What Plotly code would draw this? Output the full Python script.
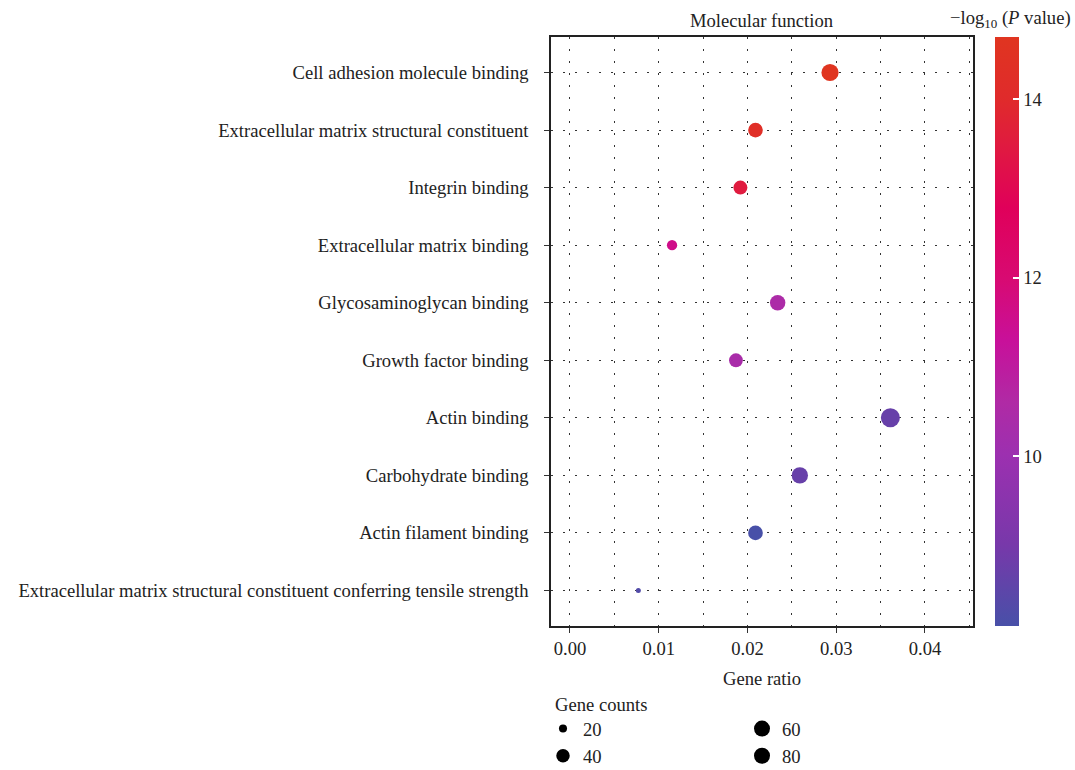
import numpy as np
import plotly.graph_objects as go

# ---------------- data ----------------
terms = [
    "Cell adhesion molecule binding",
    "Extracellular matrix structural constituent",
    "Integrin binding",
    "Extracellular matrix binding",
    "Glycosaminoglycan binding",
    "Growth factor binding",
    "Actin binding",
    "Carbohydrate binding",
    "Actin filament binding",
    "Extracellular matrix structural constituent conferring tensile strength",
]
gene_ratio = [0.0293, 0.0209, 0.0192, 0.0115, 0.0234, 0.0187, 0.0361, 0.0259, 0.0209, 0.0077]
gene_counts = [65, 47, 43, 26, 52, 42, 80, 58, 47, 17]
neg_log10_p = [14.7, 14.3, 13.5, 11.6, 10.5, 10.4, 8.7, 8.7, 8.1, 8.3]

legend_counts = [20, 40, 60, 80]
color_ticks = [10, 12, 14]
x_ticks = [0.00, 0.01, 0.02, 0.03, 0.04]

# ---------------- styling ----------------
FONT = "Liberation Serif"
FS = 18.6
cmin_px, cmax_px = 5.0, 19.0
cnt_min, cnt_max = min(gene_counts), max(gene_counts)


def diam(c):
    t = (c - cnt_min) / (cnt_max - cnt_min)
    t = max(t, 0.0)
    return cmin_px + (cmax_px - cmin_px) * np.sqrt(t)


colorscale = [
    [0.00, "#4850a8"],
    [0.14, "#7838aa"],
    [0.29, "#9c30b0"],
    [0.38, "#b02aa5"],
    [0.485, "#c8109a"],
    [0.59, "#d80a72"],
    [0.71, "#e0005a"],
    [0.815, "#e01a40"],
    [0.89, "#e02a2c"],
    [1.00, "#e03520"],
]

fig = go.Figure()

fig.add_trace(go.Scatter(
    x=gene_ratio,
    y=terms,
    mode="markers",
    showlegend=False,
    marker=dict(
        size=[diam(c) for c in gene_counts],
        color=neg_log10_p,
        colorscale=colorscale,
        line=dict(width=0),
        opacity=1,
        showscale=True,
        colorbar=dict(
            x=1.0521, xanchor="left", xpad=0,
            y=1, yanchor="top", ypad=0,
            len=1, lenmode="fraction",
            thickness=24,
            outlinewidth=0,
            tickvals=color_ticks,
            ticks="inside", ticklen=6, tickwidth=1.5, tickcolor="white",
            tickfont=dict(family=FONT, size=FS, color="#222"),
        ),
    ),
))

# gene count legend (two columns)
for i, c in enumerate(legend_counts):
    fig.add_trace(go.Scatter(
        x=[None], y=[None], mode="markers",
        name=str(c),
        legendgroup=f"g{c}",
        legend="legend" if i < 2 else "legend2",
        marker=dict(size=diam(c), color="black", line=dict(width=0)),
    ))

grid_dash = "1.5px,10.5px"

W, H = 1075, 770
ml, mr, mt, mb = 551, 102, 37, 144
pw = W - ml - mr
ph = H - mt - mb
leg_top = 710

fig.update_layout(
    width=W, height=H,
    margin=dict(l=ml, r=mr, t=mt, b=mb, autoexpand=False),
    paper_bgcolor="white",
    plot_bgcolor="white",
    font=dict(family=FONT, size=FS, color="#222"),
    xaxis=dict(
        range=[-0.00214, 0.04541],
        tickvals=x_ticks,
        tickformat=".2f",
        ticks="outside", ticklen=5, tickwidth=1.2, tickcolor="#333",
        showline=True, mirror=True, linecolor="#222", linewidth=1.5,
        showgrid=True, gridcolor="#333", gridwidth=1.2, griddash=grid_dash,
        minor=dict(dtick=0.005, tick0=0, showgrid=True, gridcolor="#333",
                   gridwidth=1.2, griddash=grid_dash, ticks=""),
        zeroline=False,
        title=dict(text="Gene ratio", standoff=14, font=dict(family=FONT, size=FS)),
        tickfont=dict(family=FONT, size=FS),
    ),
    yaxis=dict(
        type="category",
        categoryorder="array", categoryarray=terms,
        range=[9.617, -0.617],
        ticks="outside", ticklen=5, tickwidth=1.2, tickcolor="#333",
        ticklabelstandoff=12,
        showline=True, mirror=True, linecolor="#222", linewidth=1.5,
        showgrid=True, gridcolor="#333", gridwidth=1.2, griddash=grid_dash,
        zeroline=False,
        tickfont=dict(family=FONT, size=FS),
    ),
    legend=dict(
        x=(543 - ml) / pw, xanchor="left",
        y=-(leg_top - (mt + ph)) / ph, yanchor="top",
        bgcolor="rgba(0,0,0,0)", borderwidth=0,
        itemsizing="trace", traceorder="grouped", tracegroupgap=0,
        font=dict(family=FONT, size=FS, color="#222"),
    ),
    legend2=dict(
        x=(742 - ml) / pw, xanchor="left",
        y=-(leg_top - (mt + ph)) / ph, yanchor="top",
        bgcolor="rgba(0,0,0,0)", borderwidth=0,
        itemsizing="trace", traceorder="grouped", tracegroupgap=0,
        font=dict(family=FONT, size=FS, color="#222"),
    ),
    annotations=[
        dict(text="Molecular function", xref="paper", yref="paper",
             x=0.5, y=1 + (mt - 21) / ph, xanchor="center", yanchor="middle",
             showarrow=False, font=dict(family=FONT, size=FS, color="#222")),
        dict(text="\u2212log<sub>10</sub> (<i>P</i> value)", xref="paper", yref="paper",
             x=(1073 - ml) / pw, y=1 + (mt - 19) / ph, xanchor="right", yanchor="middle",
             showarrow=False, font=dict(family=FONT, size=FS, color="#222")),
        dict(text="Gene counts", xref="paper", yref="paper",
             x=(553 - ml) / pw, y=-(704 - (mt + ph)) / ph, xanchor="left", yanchor="middle",
             showarrow=False, font=dict(family=FONT, size=FS, color="#222")),
    ],
)

fig.write_html("out.html")
